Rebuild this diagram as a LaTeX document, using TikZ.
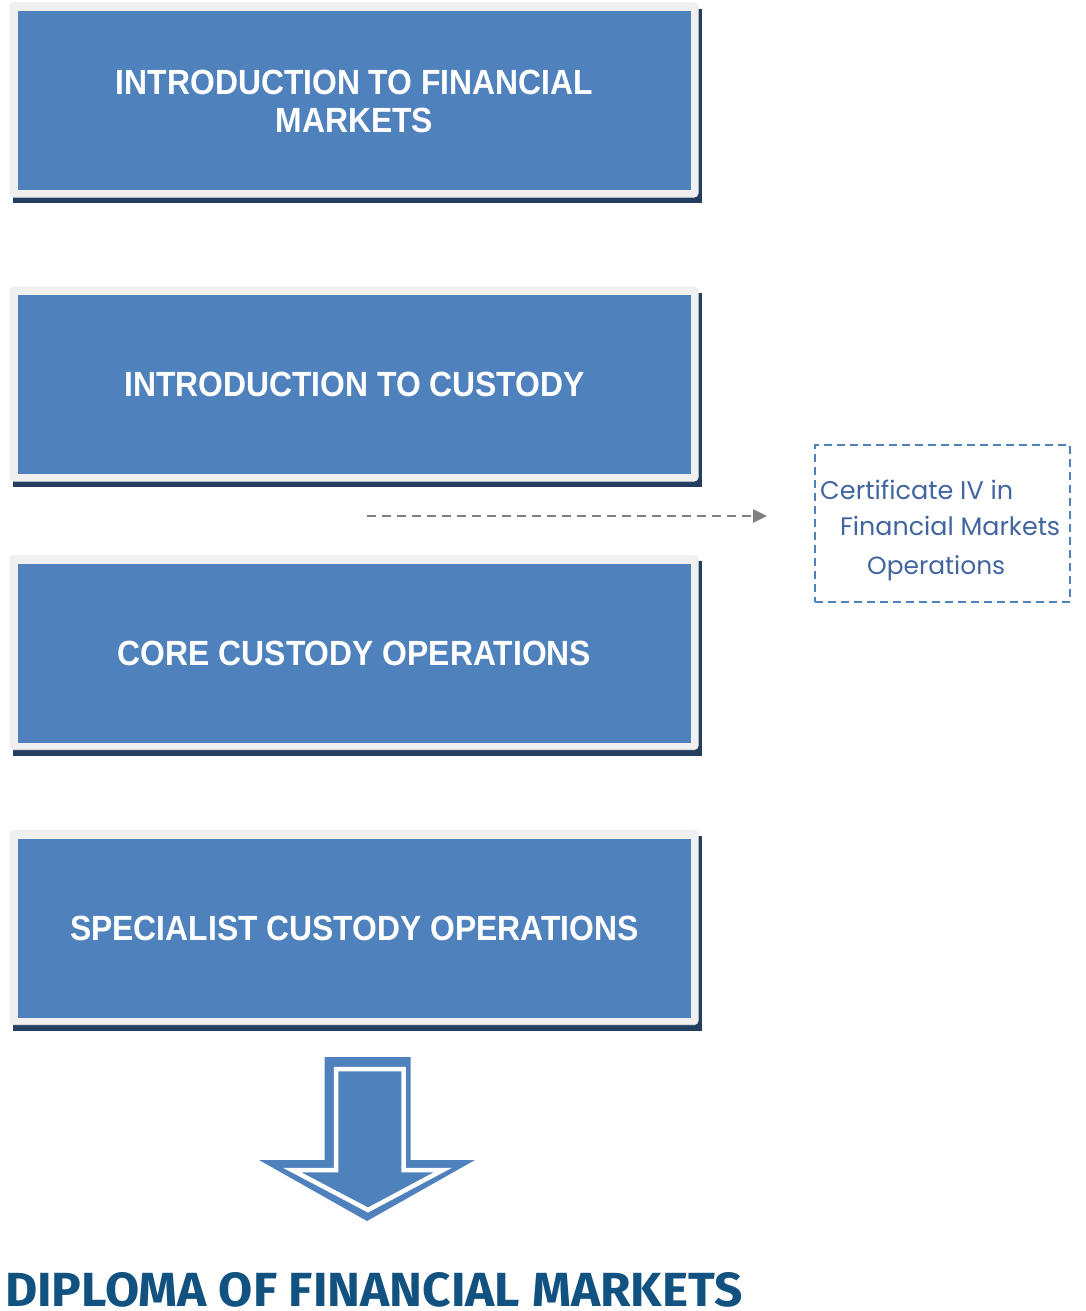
\documentclass[tikz,border=0pt]{standalone}
\usepackage{fontspec}
\usepackage{graphicx}
\setmainfont{Liberation Sans}
\newfontfamily\boxfont{Liberation Sans}[FakeStretch=0.91]
\newfontfamily\certfont{Poppins}
\newfontfamily\titlefont{Fira Sans}
\usetikzlibrary{arrows.meta,backgrounds,calc}
\definecolor{boxblue}{RGB}{79,129,189}
\definecolor{shadownavy}{RGB}{36,62,96}
\definecolor{framegray}{RGB}{240,240,240}
\definecolor{certblue}{RGB}{66,101,160}
\definecolor{titleblue}{RGB}{18,82,128}
\definecolor{arrowgray}{RGB}{128,128,128}
\tikzset{
  modbox/.style={rectangle, fill=boxblue, minimum width=673pt, minimum height=179pt,
    inner sep=0pt, text=white, align=center,
    font=\boxfont\bfseries\fontsize{35}{38}\selectfont},
  framebox/.style={fill=framegray, draw=black!7, line width=0.6pt, rounded corners=4pt},
  shadowbox/.style={fill=shadownavy},
  certbox/.style={rectangle, draw=boxblue, line width=2.5pt, dash pattern=on 8pt off 5pt,
    minimum width=255pt, minimum height=157pt, inner sep=0pt},
  certtext/.style={anchor=base west, inner sep=0pt, text=certblue,
    font=\certfont\fontsize{26}{30}\selectfont},
  dasharrow/.style={draw=arrowgray, line width=2.5pt, dash pattern=on 9pt off 6pt,
    -{Triangle[length=14pt,width=13pt]}},
  bigarrow/.style={fill=boxblue},
  bigarrowinner/.style={fill=boxblue, draw=white, line width=4.5pt, line join=miter},
  titletext/.style={anchor=base west, inner sep=0pt, text=titleblue}
}
\begin{document}
\begin{tikzpicture}[x=1pt,y=-1pt]
\useasboundingbox (0,0) rectangle (1085,1311);

\node[modbox] (b1) at (354.5,100.5) {\rule{0pt}{27pt}INTRODUCTION TO FINANCIAL\\MARKETS};
\node[modbox] (b2) at (354.5,384.5) {INTRODUCTION TO CUSTODY};
\node[modbox] (b3) at (354.5,653) {CORE CUSTODY OPERATIONS};
\node[modbox] (b4) at (354.5,928) {SPECIALIST CUSTODY OPERATIONS};

\begin{scope}[on background layer]
  \foreach \b in {b1,b2,b3,b4} {
    \fill[shadowbox] ($(\b.north west)+(-5,-2)$) rectangle ($(\b.south east)+(11,13)$);
    \path[framebox] ($(\b.north west)+(-8,-8)$) rectangle ($(\b.south east)+(7,7)$);
  }
\end{scope}

% dashed connector to the certificate
\coordinate (as) at (367,516);
\coordinate (ae) at (767,516);
\draw[dasharrow] (as) -- (ae);

\node[certbox] (cert) at (942.5,523.5) {};
\node[certtext] (c1) at (820,499) {\resizebox{193pt}{!}{Certificate IV in}};
\node[certtext] (c2) at (840,535) {\resizebox{220pt}{!}{Financial Markets}};
\node[certtext] (c3) at (867,574) {\resizebox{138pt}{!}{Operations}};

% big down arrow
\fill[bigarrow] (324.5,1057) -- (410.5,1057) -- (410.5,1160) -- (475,1160)
  -- (367,1221) -- (259,1160) -- (324.5,1160) -- cycle;
\path[bigarrowinner] (336,1069) -- (403.5,1069) -- (403.5,1170) -- (443,1170)
  -- (368,1210) -- (292,1170) -- (336,1170) -- cycle;

\node[titletext] (title) at (5,1306)
  {\resizebox{737pt}{34pt}{\titlefont\bfseries DIPLOMA OF FINANCIAL MARKETS}};
\end{tikzpicture}
\end{document}
